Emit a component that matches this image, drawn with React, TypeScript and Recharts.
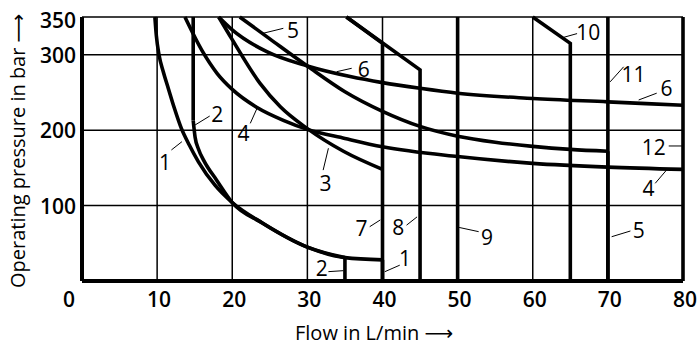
import React from "react";
import {
  LineChart,
  Line,
  XAxis,
  YAxis,
  CartesianGrid,
  ReferenceLine,
  ReferenceDot,
} from "recharts";

type Pt = [number, number];

const xTicks = [0, 10, 20, 30, 40, 50, 60, 70, 80];
const yTicks = [100, 200, 300, 350];

// characteristic curves, [flow, pressure]
const curve1: Pt[] = [
  [9.7, 350], [9.9, 325], [10.25, 300], [10.8, 278], [11.5, 255],
  [12.3, 229], [13.2, 203], [14.3, 180], [15.5, 158], [17.7, 127],
  [20, 104], [24, 77], [30, 45], [35, 31], [40, 28],
];
const curve1Drop: Pt[] = [[40, 28], [40, 0]];
const curve2Riser: Pt[] = [[14.8, 350], [14.8, 213]];
const curve2: Pt[] = [
  [14.8, 213], [15.05, 191], [15.5, 175], [16.2, 160], [17.9, 134],
  [20, 104], [24, 77], [30, 45], [35, 31],
];
const curve2Drop: Pt[] = [[35, 31], [35, 0]];
const curve3: Pt[] = [
  [18.2, 350], [20, 320], [23.7, 262], [26.4, 231], [30, 202],
  [34.8, 172], [40, 148],
];
const curve4: Pt[] = [
  [13.7, 350], [16, 305], [18, 275], [20, 254], [23.3, 230],
  [26.8, 213], [30, 201], [35, 189], [40, 178], [50, 165],
  [60, 156], [70, 151], [80, 148],
];
const curve5: Pt[] = [
  [21, 350], [25, 321], [30, 285], [35, 251], [40, 225], [45, 205],
  [50, 192], [55, 184], [60, 178.5], [65, 174.5], [70, 172],
];
const curve5Drop: Pt[] = [[70, 172], [70, 0]];
const curve6: Pt[] = [
  [18.2, 350], [20, 333], [24.6, 304], [30, 285], [35.7, 271],
  [40, 263], [45, 255.5], [50, 249], [60, 242], [70, 237.5], [80, 233],
];
const line7: Pt[] = [[35.2, 350], [40, 315], [40, 0]];
const line8: Pt[] = [[35.2, 350], [45, 280], [45, 0]];
const line9: Pt[] = [[50, 350], [50, 0]];
const line10: Pt[] = [[60, 350], [65, 315], [65, 0]];
const line11: Pt[] = [[70, 350], [70, 0]];
const line12: Pt[] = [[80, 350], [80, 0]];

const series: { pts: Pt[]; curved: boolean }[] = [
  { pts: curve1, curved: true },
  { pts: curve1Drop, curved: false },
  { pts: curve2Riser, curved: false },
  { pts: curve2, curved: true },
  { pts: curve2Drop, curved: false },
  { pts: curve3, curved: true },
  { pts: curve4, curved: true },
  { pts: curve5, curved: true },
  { pts: curve5Drop, curved: false },
  { pts: curve6, curved: true },
  { pts: line7, curved: false },
  { pts: line8, curved: false },
  { pts: line9, curved: false },
  { pts: line10, curved: false },
  { pts: line11, curved: false },
  { pts: line12, curved: false },
];

// curve numbers with their leader lines (text at, leader from -> to)
const tags: { text: string; at: Pt; from: Pt; to: Pt }[] = [
  { text: "1", at: [11.05, 158], from: [11.9, 173.7], to: [13.3, 184.7] },
  { text: "2", at: [18.0, 222], from: [17.0, 218.7], to: [15.05, 206.8] },
  { text: "4", at: [21.5, 195.8], from: [22.4, 209], to: [23.3, 229] },
  { text: "3", at: [32.4, 129.5], from: [32.1, 147], to: [32.8, 176] },
  { text: "5", at: [28.1, 332.8], from: [26.8, 335], to: [24.1, 328.4] },
  { text: "6", at: [37.5, 280.6], from: [35.9, 282], to: [33.9, 277.5] },
  { text: "10", at: [67.4, 330.5], from: [65.9, 328], to: [64.1, 323] },
  { text: "11", at: [73.4, 275], from: [72.1, 284], to: [70.3, 264] },
  { text: "6", at: [77.8, 255.5], from: [76.5, 249], to: [74.1, 240] },
  { text: "12", at: [76.1, 178], from: [78.1, 179], to: [80, 179] },
  { text: "4", at: [75.4, 122.9], from: [76.3, 129.5], to: [77.8, 147] },
  { text: "7", at: [37.2, 70], from: [38.3, 72], to: [39.7, 80.9] },
  { text: "8", at: [42.1, 72], from: [43.2, 74], to: [44.6, 85] },
  { text: "9", at: [53.9, 58.8], from: [52.8, 65.4], to: [50.2, 71] },
  { text: "1", at: [43.0, 30], from: [42.3, 21], to: [40.3, 12.3] },
  { text: "2", at: [31.9, 16.8], from: [32.8, 12.4], to: [34.8, 13.7] },
  { text: "5", at: [74.1, 67.6], from: [73, 66.3], to: [70.5, 58.7] },
];

const FONT = "'Open Sans', 'DejaVu Sans', sans-serif";

const toRows = (pts: Pt[]) => pts.map(([x, y]) => ({ x, y }));

const YTick = (props: any) => {
  const { y, payload } = props;
  return (
    <text
      x={76}
      y={y + (payload.value === 350 ? 3 : 0)}
      textAnchor="end"
      dominantBaseline="central"
      fontFamily={FONT}
      fontSize={21}
      fontWeight={600}
      fill="#000"
    >
      {payload.value}
    </text>
  );
};

const XTick = (props: any) => {
  const { x, payload } = props;
  return (
    <text
      x={x + (payload.value === 0 ? -13 : 2)}
      y={299}
      textAnchor="middle"
      dominantBaseline="central"
      fontFamily={FONT}
      fontSize={21}
      fontWeight={600}
      fill="#000"
    >
      {payload.value}
    </text>
  );
};

const XTitle = () => (
  <text
    x={295}
    y={340}
    textAnchor="start"
    fontFamily={FONT}
    fontSize={20}
    fill="#000"
  >
    Flow in L/min ⟶
  </text>
);

const YTitle = () => (
  <text
    x={0}
    y={0}
    textAnchor="start"
    transform="translate(25 288) rotate(-90)"
    fontFamily={FONT}
    fontSize={20}
    fill="#000"
  >
    Operating pressure in bar ⟶
  </text>
);

export default function App() {
  return (
    <div style={{ position: "absolute", left: 0, top: 0, width: 699, height: 351, background: "#fff" }}>
      <LineChart
        width={699}
        height={351}
        margin={{ top: 17, right: 16, bottom: 30, left: 22 }}
      >
        <CartesianGrid stroke="#000" strokeWidth={1.5} />
        <XAxis
          dataKey="x"
          type="number"
          domain={[0, 80]}
          ticks={xTicks}
          height={40}
          tickLine={false}
          axisLine={{ stroke: "#000", strokeWidth: 4 }}
          tick={<XTick />}
          label={<XTitle />}
        />
        <YAxis
          type="number"
          domain={[0, 350]}
          ticks={yTicks}
          width={60}
          tickLine={false}
          axisLine={{ stroke: "#000", strokeWidth: 4 }}
          tick={<YTick />}
          label={<YTitle />}
        />
        {series.map((s, i) => (
          <Line
            key={i}
            data={toRows(s.pts)}
            dataKey="y"
            type={s.curved ? "monotone" : "linear"}
            stroke="#000"
            strokeWidth={3.6}
            dot={false}
            activeDot={false}
            isAnimationActive={false}
          />
        ))}
        {tags.map((t, i) => (
          <ReferenceLine
            key={"l" + i}
            segment={[
              { x: t.from[0], y: t.from[1] },
              { x: t.to[0], y: t.to[1] },
            ]}
            stroke="#000"
            strokeWidth={1}
            ifOverflow="visible"
          />
        ))}
        {tags.map((t, i) => (
          <ReferenceDot
            key={"t" + i}
            x={t.at[0]}
            y={t.at[1]}
            r={0}
            ifOverflow="visible"
            shape={(p: any) => (
              <text
                x={p.cx}
                y={p.cy}
                textAnchor="middle"
                dominantBaseline="central"
                fontFamily={FONT}
                fontSize={21}
                fontWeight={500}
                fill="#000"
              >
                {t.text}
              </text>
            )}
          />
        ))}
      </LineChart>
    </div>
  );
}
